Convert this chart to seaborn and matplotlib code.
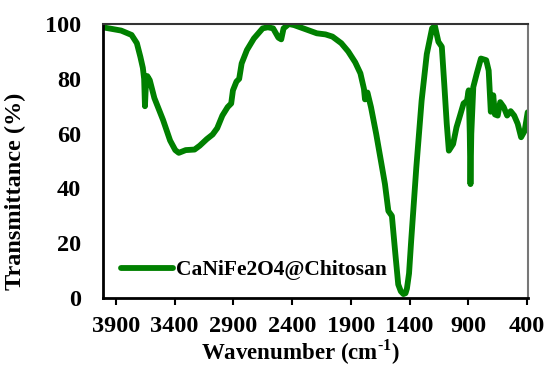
import numpy as np
import pandas as pd
import matplotlib
matplotlib.use("Agg")
import matplotlib.pyplot as plt
import seaborn as sns

wavenumber = [4013, 3856, 3767, 3722, 3692, 3671, 3660, 3653, 3645, 3633, 3612, 3573, 3499, 3439,
              3395, 3365, 3306, 3231, 3187, 3127, 3077, 3038, 2994, 2949, 2919, 2904, 2874,
              2851, 2830, 2785, 2726, 2651, 2607, 2562, 2517, 2493, 2473, 2428, 2384, 2280,
              2190, 2116, 2057, 1982, 1923, 1863, 1819, 1789, 1780, 1770, 1759, 1729, 1685,
              1640, 1610, 1581, 1551, 1521, 1497, 1475, 1453, 1435, 1423, 1405, 1387, 1343,
              1298, 1254, 1209, 1185, 1155, 1126, 1105, 1084, 1066, 1030, 1001, 971, 941, 912,
              897, 888, 882, 875, 858, 828, 793, 748, 727, 709, 688, 674, 650, 629, 599, 570,
              540, 510, 480, 451, 421, 395]
transmittance = [98.8, 97.6, 96.0, 93.0, 88.0, 84.0, 80.0, 70.0, 78.0, 81.0, 79.5, 73.0, 65.0, 57.5,
                 54.0, 53.0, 54.0, 54.2, 55.6, 58.0, 59.7, 62.0, 66.6, 69.7, 71.0, 75.8, 79.0,
                 80.0, 85.6, 90.5, 94.7, 98.4, 98.8, 98.4, 95.0, 94.4, 98.4, 100.0, 99.6, 98.0,
                 96.6, 96.2, 95.4, 93.0, 90.0, 86.0, 82.0, 76.4, 72.5, 74.0, 75.0, 69.7, 60.0,
                 49.0, 41.6, 31.8, 30.0, 15.9, 5.0, 2.5, 1.5, 1.8, 3.5, 9.0, 20.8, 47.7,
                 72.0, 89.0, 98.4, 99.3, 93.5, 91.7, 78.0, 63.6, 53.8, 56.2, 62.3, 66.6, 71.0, 72.0,
                 75.8, 60.0, 41.6, 60.0, 77.0, 82.0, 87.4, 86.8, 83.0, 68.0, 74.0, 67.0, 66.6,
                 71.5, 69.7, 66.6, 68.2, 66.6, 63.6, 58.7, 61.0, 67.8]
series_label = "CaNiFe2O4@Chitosan"
x_ticks = [3900, 3400, 2900, 2400, 1900, 1400, 900, 400]
y_ticks = [0, 20, 40, 60, 80, 100]

df = pd.DataFrame({"wn": wavenumber, "T": transmittance, "s": series_label})

sns.set_style("white")
plt.rcParams["font.family"] = ["Liberation Serif", "DejaVu Serif"]
plt.rcParams["font.weight"] = "bold"
plt.rcParams["text.color"] = "black"
plt.rcParams["axes.labelcolor"] = "black"
plt.rcParams["xtick.color"] = "black"
plt.rcParams["ytick.color"] = "black"
plt.rcParams["mathtext.fontset"] = "custom"
plt.rcParams["mathtext.rm"] = "Liberation Serif:bold"
plt.rcParams["mathtext.bf"] = "Liberation Serif:bold"

fig = plt.figure(figsize=(5.48, 3.69), dpi=100)
ax = fig.add_axes([0.188, 0.192, 0.776, 0.743])
sns.lineplot(data=df, x="wn", y="T", hue="s", palette=["#008000"], sort=False,
             linewidth=4.2, ax=ax, estimator=None)
ax.set_xlim(4010, 390)
ax.set_ylim(0, 100)
ax.set_xticks(x_ticks)
ax.set_yticks(y_ticks)
ax.tick_params(axis="x", direction="out", length=5, width=1.5, labelsize=17.5, pad=8, bottom=True)
ax.tick_params(axis="y", length=0, labelsize=17.5, pad=16)
for lab in ax.get_xticklabels() + ax.get_yticklabels():
    lab.set_fontweight("bold")
ax.set_xlabel(r"Wavenumber (cm$^{\text{-1}}$)", fontsize=16.5, fontweight="bold")
ax.set_ylabel("Transmittance (%)", fontsize=17.5, fontweight="bold")
ax.xaxis.set_label_coords(0.465, -0.145)
ax.yaxis.set_label_coords(-0.18, 0.39)
for side in ["left", "bottom"]:
    ax.spines[side].set_color("black")
    ax.spines[side].set_linewidth(2)
ax.spines["top"].set_color("#333333")
ax.spines["top"].set_linewidth(1.5)
ax.spines["right"].set_color("#777777")
ax.spines["right"].set_linewidth(1.5)
leg = ax.legend(loc="lower left", bbox_to_anchor=(-0.003, -0.005), frameon=False,
                prop={"family": "Liberation Serif", "weight": "bold", "size": 15.5},
                handlelength=2.4, handletextpad=0.15)
fig.savefig("out.png", dpi=100)
